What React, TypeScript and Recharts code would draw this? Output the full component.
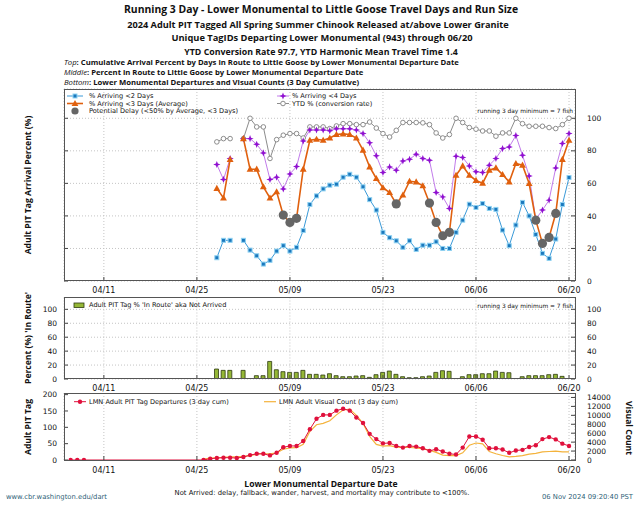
import React from 'react';
import { ComposedChart, Line, Bar, XAxis, YAxis, CartesianGrid } from 'recharts';

// date ticks shared by the three panels
const tickDates = ['04/11', '04/25', '05/09', '05/23', '06/06', '06/20'];

// top + middle panels: departure dates (05/01 had no fish)
const topDates = [
  '04/28', '04/29', '04/30', '05/01', '05/02', '05/03', '05/04', '05/05', '05/06', '05/07',
  '05/08', '05/09', '05/10', '05/11', '05/12', '05/13', '05/14', '05/15', '05/16', '05/17',
  '05/18', '05/19', '05/20', '05/21', '05/22', '05/23', '05/24', '05/25', '05/26', '05/27',
  '05/28', '05/29', '05/30', '05/31', '06/01', '06/02', '06/03', '06/04', '06/05', '06/06',
  '06/07', '06/08', '06/09', '06/10', '06/11', '06/12', '06/13', '06/14', '06/15', '06/16',
  '06/17', '06/18', '06/19', '06/20',
];
const arrive2 = [
  14.3, 25, 25, null, 25, 19, 15.5, 10.4, 12.7, 18.4,
  21.7, 18.4, 20.7, 31, 47, 52.3, 56.6, 58.9, 59.5, 63.8,
  65.6, 63.8, 57.9, 50, 43.6, 29.9, 26.6, 24.7, 20.7, 24.7,
  19.4, 22, 22, 24.1, 20, 20, 29.9, 37.4, 47.2, 45.2,
  47.6, 44.6, 44, 31.3, 21.7, 34.4, 48.3, 40, 28.6, 17,
  13.9, 25.8, 47, 63.6,
];
const arrive3 = [
  56.9, 51, 74.7, null, 87.5, 68.7, 68.7, 57.9, 51, 54.8,
  40.5, 36, 38.5, 68.7, 86.5, 87.1, 86.5, 87.9, 90, 90.4,
  90, 87.9, 80.4, 70.1, 63, 57.3, 54.4, 47.4, 52.8, 61.3,
  60.9, 58.5, 47.9, 36, 27.8, 29.9, 65, 70.7, 65, 61.8,
  60.1, 68.1, 69.5, 65.4, 60.9, 72.2, 71.2, 59.9, 37.4, 23.1,
  26.8, 41.5, 74.7, 86.5,
];
const arrive4 = [
  71.6, 62.4, 75.3, null, 87.5, 87.5, 84, 78.7, 62.4, 63.8,
  56.6, 65.8, 70.3, 86.1, 92.8, 92.8, 92.8, 92.4, 93.5, 93.5,
  93.5, 92.8, 90.6, 84.9, 77, 66.7, 70.1, 68.1, 73.8, 74.8,
  77.9, 75.3, 74.2, 54.4, 51.7, 44.6, 76.7, 75.9, 70.7, 67.1,
  66.7, 71.2, 75.3, 81.4, 82.4, 89.4, 77.3, 64.6, 38, 43.6,
  49.7, 69.5, 84.5, 90.6,
];
const ytdPct = [
  85.5, 87.5, 87.5, null, 87.5, 100, 94.7, 94.7, 75.3, 86.9,
  89.6, 90.6, 90.6, 87.9, 94.7, 94.7, 94.7, 93.7, 95.3, 96.7,
  96.7, 96.1, 96.1, 97.7, 94, 90.6, 88.5, 92.6, 97.4, 97.4,
  97.4, 97.2, 96.1, 91, 87.9, 90, 100, 97.4, 94.3, 93.3,
  92.2, 92.2, 89, 91, 91, 100, 96.7, 95.1, 95.1, 95.1,
  94.3, 93.7, 96.1, 100,
];
const inRoute = [
  14.3, 12.4, 12.4, null, 12.4, 0, 4.8, 4.8, 25.2, 13.3,
  10.5, 9.5, 9.5, 12.4, 6.7, 6.7, 5.7, 7.6, 4.8, 3.3,
  3.3, 4.3, 4.8, 2.4, 6.2, 9.5, 11.4, 6.7, 3.3, 1.9,
  1.9, 3.3, 4.3, 9.5, 11.9, 11, 0, 3.3, 6.2, 6.2,
  7.6, 7.6, 11.4, 9.5, 9, 0, 3.3, 4.8, 4.8, 4.8,
  6.2, 6.7, 3.8, 0,
];

// bottom panel: 3 day cumulative departures and visual counts
const pitDates = [
  '04/06', '04/07', '04/08',
  '04/26', '04/27', '04/28', '04/29', '04/30', '05/01', '05/02', '05/03', '05/04', '05/05',
  '05/06', '05/07', '05/08', '05/09', '05/10', '05/11', '05/12', '05/13', '05/14', '05/15',
  '05/16', '05/17', '05/18', '05/19', '05/20', '05/21', '05/22', '05/23', '05/24', '05/25',
  '05/26', '05/27', '05/28', '05/29', '05/30', '05/31', '06/01', '06/02', '06/03', '06/04',
  '06/05', '06/06', '06/07', '06/08', '06/09', '06/10', '06/11', '06/12', '06/13', '06/14',
  '06/15', '06/16', '06/17', '06/18', '06/19', '06/20',
];
const pitDepartures = [
  0, 0, 0,
  0, 4, 6, 7, 7, 6, 9, 15, 19, 19,
  14, 22, 39, 43, 43, 58, 94, 126, 138, 138,
  151, 157, 151, 130, 113, 80, 64, 51, 52, 43,
  38, 43, 41, 36, 28, 33, 26, 19, 17, 38,
  72, 72, 62, 36, 36, 32, 22, 29, 31, 40,
  45, 64, 70, 63, 50, 43,
];
const visualCount = [
  null, null, null,
  200, 400, 500, 600, 700, 700, 800, 1000, 1300, 1400,
  1400, 1600, 2400, 2700, 2750, 3500, 6400, 7900, 8200, 8800,
  10100, 11200, 11400, 10000, 8200, 5300, 3500, 3100, 3200, 2900,
  2800, 2800, 2700, 2500, 2200, 1700, 1100, 1000, 1000, 1600,
  3300, 3800, 3600, 1900, 1400, 1000, 700, 800, 1000, 1300,
  1500, 1800, 1900, 2000, 1800, 1800,
];

// day number counted from 04/11
const dayOf = (d: string) => {
  const [m, dd] = d.split('/').map(Number);
  const monthStart: Record<number, number> = { 4: 0, 5: 30, 6: 61 };
  return monthStart[m] + dd - 11;
};
const dayTicks = tickDates.map(dayOf);
const fmtDay = (v: number) => tickDates[dayTicks.indexOf(v)] ?? '';

const topData = topDates.map((d, i) => ({
  day: dayOf(d),
  a2: arrive2[i],
  a3: arrive3[i],
  a4: arrive4[i],
  ytd: ytdPct[i],
  inRoute: inRoute[i],
  delay: arrive3[i] != null && (arrive3[i] as number) < 50 ? arrive3[i] : null,
}));

const bottomData = pitDates.map((d, i) => ({
  day: dayOf(d),
  pit: pitDepartures[i],
  vis: visualCount[i],
}));

const xDomain = [-6, 70.9];
const xTick = { fontSize: 8, fill: '#111', fontFamily: 'DejaVu Sans' };
const yTick = { fontSize: 7.5, fill: '#111', fontFamily: 'DejaVu Sans' };
const tickLine = { stroke: '#444' };
const pctTicks = [0, 20, 40, 60, 80, 100];

const C_BLUE = '#3a9ad8';
const C_ORANGE = '#e0600e';
const C_PURPLE = '#c27ceb';
const C_PURPLE_DOT = '#9010d0';
const C_GREY = '#8c8c8c';
const C_RED = '#e0103c';
const C_YELLOW = '#f4b33c';

const noTick = () => <g />;

const squareDot = (p: any) => {
  if (p.value == null || p.cy == null) return <g key={p.key} />;
  return <rect key={p.key} x={p.cx - 2} y={p.cy - 2} width={4} height={4} fill="#1b78bd" stroke="#8fd2f2" strokeWidth={1} />;
};
const triangle = (cx: number, cy: number, r: number) =>
  `${cx},${cy - r} ${cx - r * 0.95},${cy + r * 0.7} ${cx + r * 0.95},${cy + r * 0.7}`;
const triDot = (p: any) => {
  if (p.value == null || p.cy == null) return <g key={p.key} />;
  return <polygon key={p.key} points={triangle(p.cx, p.cy, 3.6)} fill={C_ORANGE} />;
};
const star = (cx: number, cy: number) => {
  const pts: string[] = [];
  for (let k = 0; k < 8; k++) {
    const r = k % 2 === 0 ? 3.6 : 1.4;
    const a = (Math.PI / 4) * k - Math.PI / 2;
    pts.push(`${cx + r * Math.cos(a)},${cy + r * Math.sin(a)}`);
  }
  return pts.join(' ');
};
const starDot = (p: any) => {
  if (p.value == null || p.cy == null) return <g key={p.key} />;
  return <polygon key={p.key} points={star(p.cx, p.cy)} fill={C_PURPLE_DOT} />;
};
const ringDot = (p: any) => {
  if (p.value == null || p.cy == null) return <g key={p.key} />;
  return <circle key={p.key} cx={p.cx} cy={p.cy} r={2.3} fill="#fff" stroke={C_GREY} strokeWidth={1} />;
};
const delayDot = (p: any) => {
  if (p.value == null || p.cy == null) return <g key={p.key} />;
  return <circle key={p.key} cx={p.cx} cy={p.cy} r={4.6} fill="#666" />;
};
const redDot = (p: any) => {
  if (p.value == null || p.cy == null) return <g key={p.key} />;
  return <circle key={p.key} cx={p.cx} cy={p.cy} r={2.2} fill={C_RED} />;
};

function TopPanel() {
  return (
    <div style={{ position: 'absolute', left: 0, top: 0 }}>
      <ComposedChart width={640} height={300} data={topData} margin={{ top: 89, right: 25, bottom: 0, left: 34 }}>
        <CartesianGrid yAxisId="r" stroke="#c4c4c4" strokeDasharray="1 2" />
        <XAxis dataKey="day" type="number" domain={xDomain} ticks={dayTicks} tickFormatter={fmtDay} interval={0}
          axisLine={false} tickLine={tickLine} tickSize={-4} tickMargin={10} height={19} tick={xTick} allowDataOverflow />
        <YAxis yAxisId="l" width={30} domain={[0, 118]} ticks={pctTicks} interval={0} axisLine={false}
          tickLine={tickLine} tickSize={-4} tick={noTick} allowDataOverflow />
        <YAxis yAxisId="r" orientation="right" width={40} domain={[0, 118]} ticks={pctTicks} interval={0} axisLine={false}
          tickLine={tickLine} tickSize={-4} tickMargin={16} tick={yTick} allowDataOverflow />
        <Line yAxisId="r" dataKey="ytd" stroke={C_GREY} strokeWidth={1} dot={ringDot} isAnimationActive={false} />
        <Line yAxisId="r" dataKey="a4" stroke={C_PURPLE} strokeWidth={1} dot={starDot} isAnimationActive={false} />
        <Line yAxisId="r" dataKey="a2" stroke={C_BLUE} strokeWidth={1} dot={squareDot} isAnimationActive={false} />
        <Line yAxisId="r" dataKey="a3" stroke={C_ORANGE} strokeWidth={1.6} dot={triDot} isAnimationActive={false} />
        <Line yAxisId="r" dataKey="delay" stroke="none" dot={delayDot} isAnimationActive={false} />
      </ComposedChart>
    </div>
  );
}

function MiddlePanel() {
  return (
    <div style={{ position: 'absolute', left: 0, top: 290 }}>
      <ComposedChart width={640} height={110} data={topData} margin={{ top: 7.5, right: 25, bottom: 0, left: 34 }}>
        <CartesianGrid yAxisId="r" stroke="#c4c4c4" strokeDasharray="1 2" />
        <XAxis dataKey="day" type="number" domain={xDomain} ticks={dayTicks} tickFormatter={fmtDay} interval={0}
          axisLine={false} tickLine={tickLine} tickSize={-4} tickMargin={10} height={21} tick={xTick} allowDataOverflow />
        <YAxis yAxisId="l" width={30} domain={[0, 117]} ticks={pctTicks} interval={0} axisLine={false}
          tickLine={tickLine} tickSize={-4} tickMargin={11} tick={yTick} allowDataOverflow />
        <YAxis yAxisId="r" orientation="right" width={40} domain={[0, 117]} ticks={pctTicks} interval={0} axisLine={false}
          tickLine={tickLine} tickSize={-4} tickMargin={16} tick={yTick} allowDataOverflow />
        <Bar yAxisId="r" dataKey="inRoute" barSize={4} fill="#95b736" stroke="#2d3a10" strokeWidth={0.8} isAnimationActive={false} />
      </ComposedChart>
    </div>
  );
}

function BottomPanel() {
  return (
    <div style={{ position: 'absolute', left: 0, top: 385 }}>
      <ComposedChart width={640} height={95} data={bottomData} margin={{ top: 8, right: 25, bottom: 0, left: 34 }}>
        <CartesianGrid yAxisId="pit" horizontal={false} stroke="#c4c4c4" strokeDasharray="1 2" />
        <XAxis dataKey="day" type="number" domain={xDomain} ticks={dayTicks} tickFormatter={fmtDay} interval={0}
          axisLine={false} tickLine={tickLine} tickSize={-4} tickMargin={11} height={20} tick={xTick} allowDataOverflow />
        <YAxis yAxisId="pit" width={30} domain={[0, 205]} ticks={[0, 50, 100, 150, 200]} interval={0} axisLine={false}
          tickLine={tickLine} tickSize={-4} tickMargin={11} tick={yTick} allowDataOverflow />
        <YAxis yAxisId="vis" orientation="right" width={40} domain={[0, 15000]}
          ticks={[0, 2000, 4000, 6000, 8000, 10000, 12000, 14000]} interval={0} axisLine={false}
          tickLine={tickLine} tickSize={-4} tickMargin={16} tick={yTick} allowDataOverflow />
        <Line yAxisId="vis" dataKey="vis" stroke={C_YELLOW} strokeWidth={1.2} dot={false} isAnimationActive={false} />
        <Line yAxisId="pit" dataKey="pit" stroke={C_RED} strokeWidth={1} dot={redDot} isAnimationActive={false} />
      </ComposedChart>
    </div>
  );
}

const legendFont = { fontFamily: 'DejaVu Sans', fontSize: 6.6, fill: '#111' };

function Overlay() {
  return (
    <svg width={640} height={512} style={{ position: 'absolute', left: 0, top: 0, pointerEvents: 'none' }}>
      <g fontFamily="Open Sans" fontWeight="bold" textAnchor="middle" fill="#111">
        <text x={321} y={13} fontSize={10.4}>Running 3 Day - Lower Monumental to Little Goose Travel Days and Run Size</text>
        <text x={318} y={27.5} fontSize={9.2}>2024 Adult PIT Tagged All Spring Summer Chinook Released at/above Lower Granite</text>
        <text x={322} y={41} fontSize={9.3}>Unique TagIDs Departing Lower Monumental (943) through 06/20</text>
        <text x={321} y={54.5} fontSize={8.8}>YTD Conversion Rate 97.7, YTD Harmonic Mean Travel Time 1.4</text>
      </g>
      <g fontFamily="Open Sans" fontSize={7.7} fill="#111">
        <text x={64} y={64.5}><tspan fontStyle="italic">Top</tspan><tspan fontWeight="bold">: Cumulative Arrival Percent by Days in Route to Little Goose by Lower Monumental Departure Date</tspan></text>
        <text x={64} y={74.5}><tspan fontStyle="italic">Middle</tspan><tspan fontWeight="bold">: Percent in Route to Little Goose by Lower Monumental Departure Date</tspan></text>
        <text x={64} y={84.5}><tspan fontStyle="italic">Bottom</tspan><tspan fontWeight="bold">: Lower Monumental Departures and Visual Counts (3 Day Cumulative)</tspan></text>
      </g>

      {/* panel frames */}
      <g fill="none" stroke="#555" strokeWidth={1}>
        <rect x={64.5} y={89.5} width={511} height={191} />
        <rect x={64.5} y={297.5} width={511} height={81} />
        <rect x={64.5} y={393.5} width={511} height={67} />
      </g>

      {/* top legend */}
      <g>
        <line x1={67} y1={96} x2={83} y2={96} stroke={C_BLUE} />
        <rect x={73} y={94} width={4} height={4} fill="#1b78bd" stroke="#8fd2f2" />
        <text x={89} y={98.3} {...legendFont}>% Arriving &lt;2 Days</text>
        <line x1={67} y1={103.5} x2={83} y2={103.5} stroke={C_ORANGE} strokeWidth={1.6} />
        <polygon points={triangle(75, 103.5, 3.6)} fill={C_ORANGE} />
        <text x={89} y={105.8} {...legendFont}>% Arriving &lt;3 Days (Average)</text>
        <circle cx={75} cy={111} r={3.6} fill="#666" />
        <text x={89} y={113.3} {...legendFont}>Potential Delay (&lt;50% by Average, &lt;3 Days)</text>
        <line x1={277} y1={96} x2={289} y2={96} stroke={C_PURPLE} />
        <polygon points={star(283, 96)} fill={C_PURPLE_DOT} />
        <text x={292} y={98.3} {...legendFont}>% Arriving &lt;4 Days</text>
        <line x1={277} y1={103.5} x2={289} y2={103.5} stroke={C_GREY} />
        <circle cx={283} cy={103.5} r={2.3} fill="#fff" stroke={C_GREY} />
        <text x={292} y={105.8} {...legendFont}>YTD % (conversion rate)</text>
        <text x={573} y={112.8} {...legendFont} fontSize={5.9} textAnchor="end">running 3 day minimum = 7 fish</text>
      </g>

      {/* middle legend */}
      <g>
        <rect x={74} y={303} width={10} height={4.5} fill="#95b736" stroke="#2d3a10" strokeWidth={0.8} />
        <text x={89} y={307.3} {...legendFont}>Adult PIT Tag % 'In Route' aka Not Arrived</text>
        <text x={573} y={308.3} {...legendFont} fontSize={5.9} textAnchor="end">running 3 day minimum = 7 fish</text>
      </g>

      {/* bottom legend */}
      <g>
        <line x1={74} y1={401.7} x2={86} y2={401.7} stroke={C_RED} />
        <circle cx={80} cy={401.7} r={2.2} fill={C_RED} />
        <text x={89} y={404} {...legendFont}>LMN Adult PIT Tag Departures (3 day cum)</text>
        <line x1={264} y1={401.7} x2={276} y2={401.7} stroke={C_YELLOW} strokeWidth={1.2} />
        <text x={279} y={404} {...legendFont}>LMN Adult Visual Count (3 day cum)</text>
      </g>

      {/* axis titles */}
      <g fontFamily="Open Sans" fontWeight="bold" fontSize={8.6} fill="#111" textAnchor="middle">
        <text transform="translate(31,185) rotate(-90)">Adult PIT Tag Arrival Percent (%)</text>
        <text transform="translate(31,338) rotate(-90)">Percent (%) 'In Route'</text>
        <text transform="translate(31,427) rotate(-90)">Adult PIT Tag</text>
        <text transform="translate(626,428) rotate(90)">Visual Count</text>
        <text x={321} y={486.5} fontSize={8.6}>Lower Monumental Departure Date</text>
      </g>
      <text x={322} y={494.5} textAnchor="middle" {...legendFont} fontSize={6.8}>Not Arrived: delay, fallback, wander, harvest, and mortality may contribute to &lt;100%.</text>
      <text x={6} y={498.5} fontFamily="DejaVu Sans" fontSize={6.8} fill="#2f5f78">www.cbr.washington.edu/dart</text>
      <text x={633} y={498.5} textAnchor="end" fontFamily="DejaVu Sans" fontSize={6.8} fill="#2f5f78">06 Nov 2024 09:20:40 PST</text>
    </svg>
  );
}

export default function App() {
  return (
    <div style={{ position: 'absolute', left: 0, top: 0, width: 640, height: 512, background: '#fff' }}>
      <TopPanel />
      <MiddlePanel />
      <BottomPanel />
      <Overlay />
    </div>
  );
}
